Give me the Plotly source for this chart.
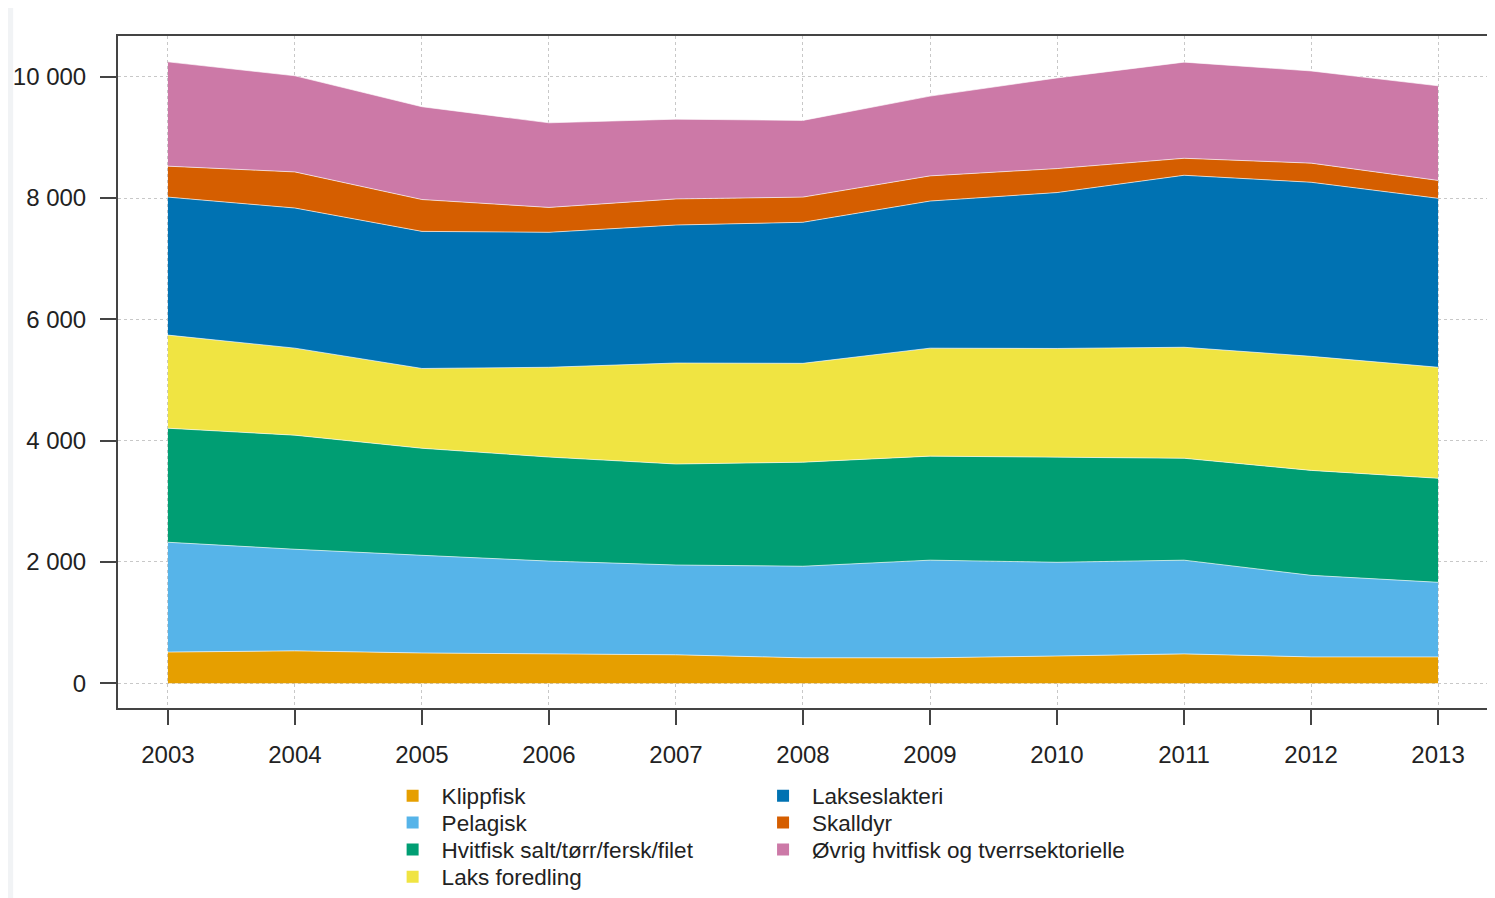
import plotly.graph_objects as go

years = [2003, 2004, 2005, 2006, 2007, 2008, 2009, 2010, 2011, 2012, 2013]

klippfisk = [515, 535, 500, 485, 470, 420, 420, 450, 485, 435, 435]
pelagisk = [1810, 1675, 1610, 1530, 1480, 1510, 1610, 1545, 1545, 1345, 1230]
hvitfisk = [1880, 1880, 1765, 1715, 1665, 1715, 1715, 1730, 1680, 1730, 1715]
laks_foredling = [1535, 1435, 1315, 1480, 1665, 1630, 1780, 1795, 1830, 1880, 1830]
lakseslakteri = [2275, 2310, 2260, 2225, 2275, 2325, 2425, 2570, 2835, 2870, 2785]
skalldyr = [510, 595, 525, 410, 430, 415, 415, 395, 280, 315, 295]
ovrig = [1720, 1585, 1530, 1395, 1315, 1265, 1315, 1495, 1585, 1520, 1560]

y_ticks = [0, 2000, 4000, 6000, 8000, 10000]
y_tick_text = ['0', '2 000', '4 000', '6 000', '8 000', '10 000']

series = [
    ('Klippfisk', klippfisk, '#E69F00'),
    ('Pelagisk', pelagisk, '#56B4E9'),
    ('Hvitfisk salt/tørr/fersk/filet', hvitfisk, '#009E73'),
    ('Laks foredling', laks_foredling, '#F0E442'),
    ('Lakseslakteri', lakseslakteri, '#0072B2'),
    ('Skalldyr', skalldyr, '#D55E00'),
    ('Øvrig hvitfisk og tverrsektorielle', ovrig, '#CC79A7'),
]

FONT = 'Liberation Sans, Arial, Helvetica, sans-serif'

fig = go.Figure()
for i, (name, values, color) in enumerate(series):
    fig.add_trace(go.Scatter(
        x=years,
        y=values,
        name=name,
        mode='lines',
        stackgroup='one',
        line={'width': 0.8, 'color': 'rgba(255,255,255,0.8)'},
        fillcolor=color,
        showlegend=False,
        hoverinfo='x+y+name',
    ))
    # one small legend per entry so the rows sit as tight as in the original
    fig.add_trace(go.Scatter(
        x=[None],
        y=[None],
        name=name,
        mode='markers',
        marker={'symbol': 'square', 'size': 12, 'color': color},
        legend='legend' if i == 0 else f'legend{i + 1}',
    ))

axis_style = dict(
    ticks='outside',
    tickwidth=2,
    tickcolor='#444',
    showline=True,
    mirror=True,
    linecolor='#444',
    linewidth=2,
    showgrid=True,
    gridcolor='#c8c8c8',
    griddash='dot',
    gridwidth=1,
    zeroline=False,
    tickfont={'size': 24, 'color': '#222', 'family': FONT},
)

fig.update_xaxes(
    range=[2002.607, 2013.409],
    tickvals=years,
    ticklen=15,
    ticklabelstandoff=9,
    **axis_style,
)
fig.update_yaxes(
    range=[-407, 10671],
    tickvals=y_ticks,
    ticktext=y_tick_text,
    ticklen=16,
    ticklabelstandoff=9,
    **axis_style,
)

legend_style = dict(
    yanchor='middle',
    xanchor='left',
    bgcolor='rgba(0,0,0,0)',
    font={'size': 22.5, 'color': '#222', 'family': FONT},
    itemwidth=48,
)
# column x and row y (paper units) for the two-column legend
legend_cols = [0.1936, 0.1936, 0.1936, 0.1936, 0.4636, 0.4636, 0.4636]
legend_rows = [-0.1310, -0.1711, -0.2113, -0.2515, -0.1310, -0.1711, -0.2113]
legends = {}
for i, (lx, ly) in enumerate(zip(legend_cols, legend_rows)):
    key = 'legend' if i == 0 else f'legend{i + 1}'
    legends[key] = {**legend_style, 'x': lx, 'y': ly}

# the page body adds an 8px offset; the figure runs a little past the
# bottom of the window so the last legend row does not push the margin
fig.update_layout(
    width=1487,
    height=900,
    margin={'l': 110, 'r': 3, 't': 28, 'b': 200},
    paper_bgcolor='white',
    plot_bgcolor='white',
    font={'family': FONT, 'color': '#222'},
    shapes=[
        # light grey page edge left of the white panel
        dict(type='rect', xref='paper', yref='paper', x0=-0.09, x1=-0.0764, y0=-0.35, y1=1.06,
             fillcolor='#f1f3f5', line={'width': 0}, layer='above'),
    ],
    **legends,
)

fig.write_html('out.html')
